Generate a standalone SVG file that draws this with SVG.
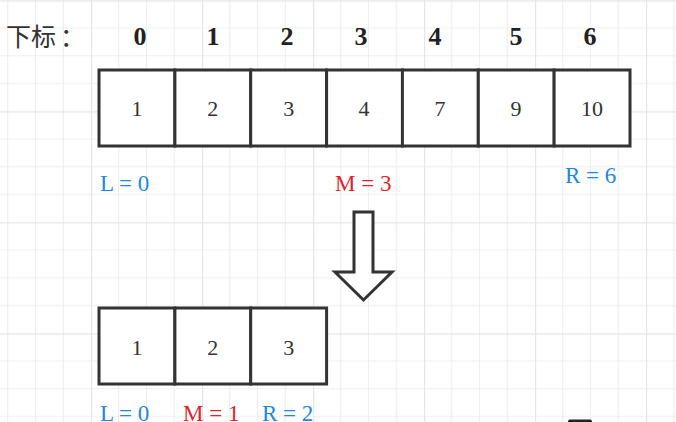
<svg xmlns="http://www.w3.org/2000/svg" width="676" height="422" viewBox="0 0 676 422">
<defs>
<pattern id="grid" patternUnits="userSpaceOnUse" x="-20" y="0.3" width="111" height="111">
<path d="M27.75 0V111M55.5 0V111M83.25 0V111M0 27.75H111M0 55.5H111M0 83.25H111" stroke="#efefef" stroke-width="1.2" fill="none"/>
<path d="M0.5 0V111M0 0.5H111" stroke="#e6e6e6" stroke-width="1.4" fill="none"/>
</pattern>
<style>
.cell{fill:#fff;stroke:#333;stroke-width:3}
.val{font-family:"Liberation Serif","Times New Roman",serif;font-size:22px;fill:#333;text-anchor:middle}
.idx{font-family:"Liberation Serif","Times New Roman",serif;font-size:26px;font-weight:bold;fill:#222;text-anchor:middle}
.lab{font-family:"Liberation Serif","Times New Roman",serif;font-size:23px;text-anchor:start}
.blue{fill:#1f87e6}
.red{fill:#e2232a}
.arrow{fill:#fff;stroke:#333;stroke-width:3;stroke-linejoin:miter}
</style>
</defs>
<rect width="676" height="422" fill="#fff"/>
<rect width="676" height="422" fill="url(#grid)"/>

<g id="header">
<text x="6" y="46" style="font-family:'Liberation Serif','Noto Sans CJK SC',serif;font-size:25px;fill:#333">下标<tspan dx="4">：</tspan></text>
<text class="idx" x="140" y="45">0</text>
<text class="idx" x="213" y="45">1</text>
<text class="idx" x="287" y="45">2</text>
<text class="idx" x="361" y="45">3</text>
<text class="idx" x="435" y="45">4</text>
<text class="idx" x="516" y="45">5</text>
<text class="idx" x="590" y="45">6</text>
</g>

<g id="top-array">
<g id="t0"><rect class="cell" x="99" y="70" width="75.9" height="76"/><text class="val" x="137" y="116">1</text></g>
<g id="t1"><rect class="cell" x="174.9" y="70" width="75.9" height="76"/><text class="val" x="212.8" y="116">2</text></g>
<g id="t2"><rect class="cell" x="250.7" y="70" width="75.9" height="76"/><text class="val" x="288.7" y="116">3</text></g>
<g id="t3"><rect class="cell" x="326.6" y="70" width="75.9" height="76"/><text class="val" x="364" y="116">4</text></g>
<g id="t4"><rect class="cell" x="402.4" y="70" width="75.9" height="76"/><text class="val" x="440" y="116">7</text></g>
<g id="t5"><rect class="cell" x="478.3" y="70" width="75.9" height="76"/><text class="val" x="516" y="116">9</text></g>
<g id="t6"><rect class="cell" x="554.1" y="70" width="75.9" height="76"/><text class="val" x="592" y="116">10</text></g>
</g>

<g id="top-labels">
<text class="lab blue" x="100" y="191">L = 0</text>
<text class="lab red" x="335" y="191">M = 3</text>
<text class="lab blue" x="565" y="183">R = 6</text>
</g>

<g id="connectors">
<polygon class="arrow" points="354,212 373,212 373,272 392,272 363.5,300 335,272 354,272"/>
</g>

<g id="bottom-array">
<g id="b0"><rect class="cell" x="99" y="308" width="75.9" height="76"/><text class="val" x="137" y="354.5">1</text></g>
<g id="b1"><rect class="cell" x="174.9" y="308" width="75.9" height="76"/><text class="val" x="212.8" y="354.5">2</text></g>
<g id="b2"><rect class="cell" x="250.7" y="308" width="75.9" height="76"/><text class="val" x="288.7" y="354.5">3</text></g>
</g>

<g id="bottom-labels">
<text class="lab blue" x="100" y="421">L = 0</text>
<text class="lab red" x="183" y="421">M = 1</text>
<text class="lab blue" x="262" y="421">R = 2</text>
</g>

<rect x="568" y="419.5" width="24" height="4" rx="2" fill="#222"/>
</svg>
